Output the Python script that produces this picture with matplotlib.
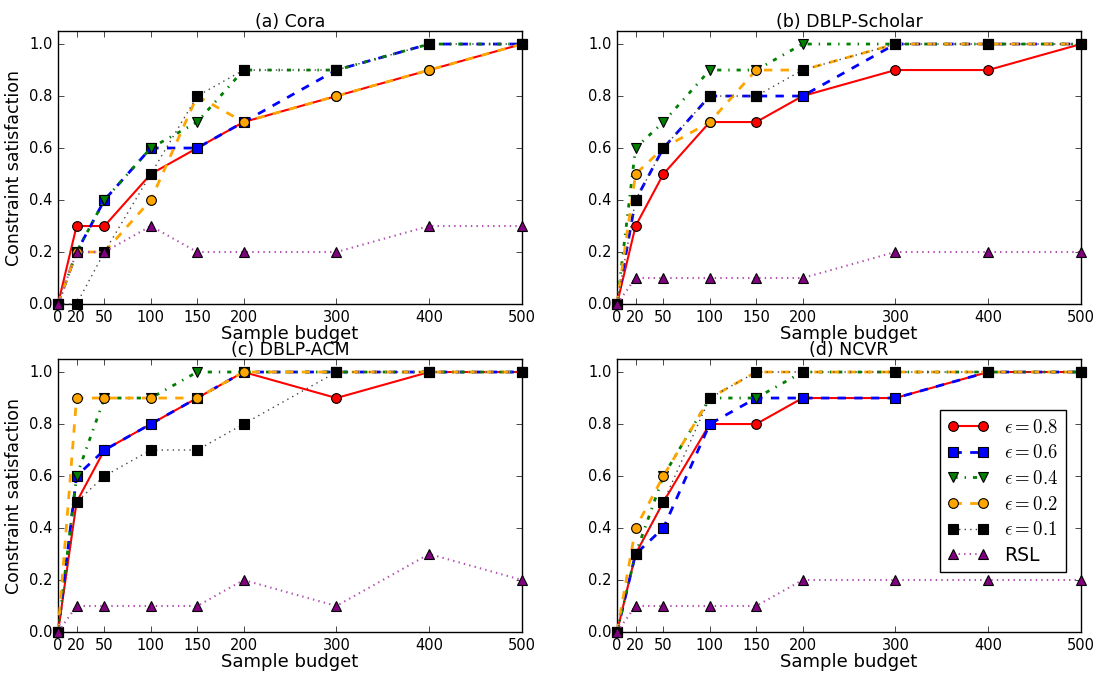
import matplotlib
matplotlib.use('Agg')
import matplotlib.pyplot as plt

budget = [0, 20, 50, 100, 150, 200, 300, 400, 500]

titles = ['(a) Cora', '(b) DBLP-Scholar', '(c) DBLP-ACM', '(d) NCVR']
labels = [r'$\epsilon=0.8$', r'$\epsilon=0.6$', r'$\epsilon=0.4$',
          r'$\epsilon=0.2$', r'$\epsilon=0.1$', 'RSL']

cora = [
    [0, 0.3, 0.3, 0.5, 0.6, 0.7, 0.8, 0.9, 1.0],
    [0, 0.2, 0.4, 0.6, 0.6, 0.7, 0.9, 1.0, 1.0],
    [0, 0.2, 0.4, 0.6, 0.7, 0.9, 0.9, 1.0, 1.0],
    [0, 0.2, 0.2, 0.4, 0.8, 0.7, 0.8, 0.9, 1.0],
    [0, 0.0, 0.2, 0.5, 0.8, 0.9, 0.9, 1.0, 1.0],
    [0, 0.2, 0.2, 0.3, 0.2, 0.2, 0.2, 0.3, 0.3],
]
dblp_scholar = [
    [0, 0.3, 0.5, 0.7, 0.7, 0.8, 0.9, 0.9, 1.0],
    [0, 0.4, 0.6, 0.8, 0.8, 0.8, 1.0, 1.0, 1.0],
    [0, 0.6, 0.7, 0.9, 0.9, 1.0, 1.0, 1.0, 1.0],
    [0, 0.5, 0.6, 0.7, 0.9, 0.9, 1.0, 1.0, 1.0],
    [0, 0.4, 0.6, 0.8, 0.8, 0.9, 1.0, 1.0, 1.0],
    [0, 0.1, 0.1, 0.1, 0.1, 0.1, 0.2, 0.2, 0.2],
]
dblp_acm = [
    [0, 0.5, 0.7, 0.8, 0.9, 1.0, 0.9, 1.0, 1.0],
    [0, 0.6, 0.7, 0.8, 0.9, 1.0, 1.0, 1.0, 1.0],
    [0, 0.6, 0.9, 0.9, 1.0, 1.0, 1.0, 1.0, 1.0],
    [0, 0.9, 0.9, 0.9, 0.9, 1.0, 1.0, 1.0, 1.0],
    [0, 0.5, 0.6, 0.7, 0.7, 0.8, 1.0, 1.0, 1.0],
    [0, 0.1, 0.1, 0.1, 0.1, 0.2, 0.1, 0.3, 0.2],
]
ncvr = [
    [0, 0.3, 0.5, 0.8, 0.8, 0.9, 0.9, 1.0, 1.0],
    [0, 0.3, 0.4, 0.8, 0.9, 0.9, 0.9, 1.0, 1.0],
    [0, 0.3, 0.6, 0.9, 0.9, 1.0, 1.0, 1.0, 1.0],
    [0, 0.4, 0.6, 0.9, 1.0, 1.0, 1.0, 1.0, 1.0],
    [0, 0.3, 0.5, 0.9, 1.0, 1.0, 1.0, 1.0, 1.0],
    [0, 0.1, 0.1, 0.1, 0.1, 0.2, 0.2, 0.2, 0.2],
]
datasets = [cora, dblp_scholar, dblp_acm, ncvr]

# style per series: line colour, marker colour, linestyle, marker, linewidth
styles = [
    ('#ff0000', '#ff0000', '-', 'o', 1.5),
    ('#0000ff', '#0000ff', '--', 's', 2.0),
    ('#007f00', '#007f00', '-.', 'v', 2.0),
    ('#ffa500', '#ffa500', '--', 'o', 2.0),
    ('#444444', '#000000', ':', 's', 1.0),
    ('#b050b0', '#800080', ':', '^', 1.5),
]

plt.style.use('classic')
plt.rcParams['mathtext.fontset'] = 'cm'
plt.rcParams['font.family'] = 'DejaVu Sans'

fig = plt.figure(figsize=(11.01, 6.75), dpi=100, facecolor='white')
positions = [
    [0.0527, 0.5496, 0.4214, 0.4044],
    [0.5604, 0.5496, 0.4214, 0.4044],
    [0.0527, 0.0637, 0.4214, 0.4044],
    [0.5604, 0.0637, 0.4214, 0.4044],
]

for i, (pos, title, data) in enumerate(zip(positions, titles, datasets)):
    ax = fig.add_axes(pos)
    ax.set_facecolor('white')
    for vals, lab, (lc, mc, ls, m, lw) in zip(data, labels, styles):
        ax.plot(budget, vals, color=lc, linestyle=ls, marker=m, lw=lw,
                markersize=7, markerfacecolor=mc, markeredgecolor='black',
                markeredgewidth=0.8, label=lab, clip_on=False, zorder=3)
    ax.set_xlim(0, 500)
    ax.set_ylim(0, 1.05)
    ax.set_xticks(budget)
    ax.set_yticks([0.0, 0.2, 0.4, 0.6, 0.8, 1.0])
    ax.set_yticklabels(['0.0', '0.2', '0.4', '0.6', '0.8', '1.0'])
    ax.tick_params(labelsize=10.5, direction='in', top=True, right=True, pad=4)
    ax.set_title(title, fontsize=12.5, pad=3)
    ax.set_xlabel('Sample budget', fontsize=13, labelpad=0)
    if i % 2 == 0:
        ax.set_ylabel('Constraint satisfaction', fontsize=12.5, labelpad=4)
    if i == 3:
        leg = ax.legend(loc='lower right', bbox_to_anchor=(0.987, 0.185),
                        numpoints=2, fontsize=13.5, fancybox=False,
                        framealpha=1, edgecolor='black', handlelength=2.2,
                        borderpad=0.4, labelspacing=0.35, handletextpad=0.8)
        leg.get_frame().set_linewidth(1.0)
        leg.set_zorder(5)

fig.savefig('out.png', dpi=100, facecolor='white')
